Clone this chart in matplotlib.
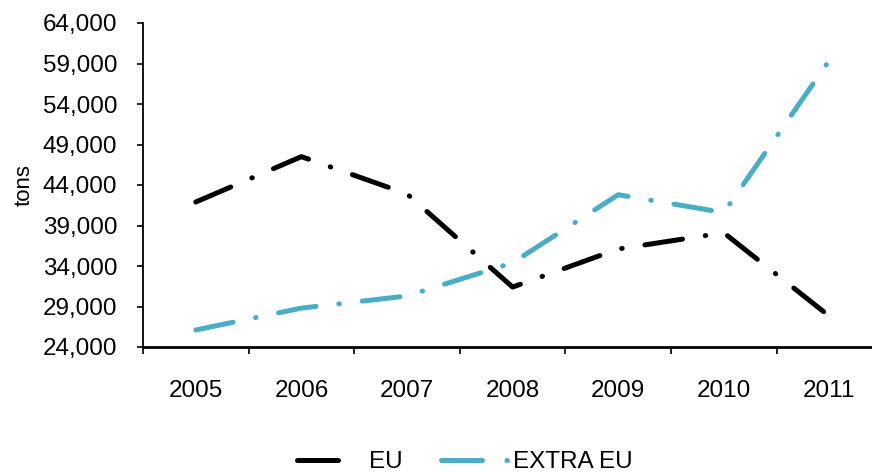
import numpy as np
import matplotlib
matplotlib.use("Agg")
import matplotlib.pyplot as plt
from matplotlib.lines import Line2D
from matplotlib.ticker import FuncFormatter

plt.rcParams['font.family'] = ['Liberation Sans', 'DejaVu Sans']

years = ["2005", "2006", "2007", "2008", "2009", "2010", "2011"]
eu = [41900, 47500, 42900, 31400, 36100, 38100, 27800]
extra_eu = [26100, 28800, 30300, 34400, 42800, 40600, 59400]
yticks = np.arange(24000, 64001, 5000)

EU_COL = "black"
EXTRA_COL = "#4BACC6"

fig = plt.figure(figsize=(8.72, 4.72), dpi=100)
# axes runs past the right edge of the figure, as in the original
ax = fig.add_axes([143 / 872, 125 / 472, 7 * 105.6 / 872, 324 / 472])

x = np.arange(len(years))
dash = (0, (7.6, 4.6, 0.1, 4.6))
ax.plot(x, eu, color=EU_COL, lw=3.6, linestyle=dash,
        dash_capstyle="round", solid_joinstyle="miter")
ax.plot(x, extra_eu, color=EXTRA_COL, lw=3.6, linestyle=dash,
        dash_capstyle="round", solid_joinstyle="miter")

ax.set_xlim(-0.5, 6.5)
ax.set_ylim(24000, 64000)
ax.set_yticks(yticks)
ax.yaxis.set_major_formatter(FuncFormatter(lambda v, p: "{:,.0f}".format(v)))
ax.set_xticks(x)
ax.set_xticklabels(years)
ax.set_xticks(np.arange(-0.5, 6.6, 1), minor=True)
ax.tick_params(axis="x", which="major", length=0, pad=24, labelsize=17.5)
ax.tick_params(axis="x", which="minor", length=5, width=1.2, direction="out")
ax.tick_params(axis="y", length=4.5, width=1.2, pad=14, labelsize=17.5)

for s in ["top", "right"]:
    ax.spines[s].set_visible(False)
ax.spines["left"].set_linewidth(1.3)
ax.spines["bottom"].set_linewidth(2)

ax.set_ylabel("tons", fontsize=16, labelpad=6)

# legend proxies: EU shows only the dash, EXTRA EU dash + dot
h_eu = Line2D([], [], color=EU_COL, lw=3.6, linestyle=(0, (8.2, 20)),
              dash_capstyle="round")
h_extra = Line2D([], [], color=EXTRA_COL, lw=3.6, linestyle=(0, (8.2, 4.9, 0.1, 20)),
                 dash_capstyle="round")
fig.legend([h_eu, h_extra], ["EU", "EXTRA EU"], loc="center",
           bbox_to_anchor=(0.533, 10 / 472), ncol=2, frameon=False,
           fontsize=17.5, handlelength=2.74, columnspacing=1.55,
           handletextpad=0.25)

fig.savefig("out.png", dpi=100)
